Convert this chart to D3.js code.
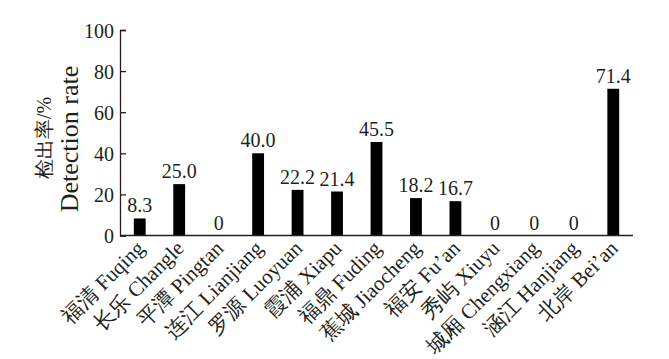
<!DOCTYPE html>
<html><head><meta charset="utf-8">
<script src="https://cdn.jsdelivr.net/npm/d3@7"></script>
<style>body{margin:0;background:#fff;}</style></head>
<body><svg id="c" width="669" height="359"></svg>
<script>
const categories = ["福清 Fuqing","长乐 Changle","平潭 Pingtan","连江 Lianjiang","罗源 Luoyuan","霞浦 Xiapu","福鼎 Fuding","蕉城 Jiaocheng","福安 Fu’an","秀屿 Xiuyu","城厢 Chengxiang","涵江 Hanjiang","北岸 Bei’an"];
const values = [8.3,25.0,0,40.0,22.2,21.4,45.5,18.2,16.7,0,0,0,71.4];
const valueLabels = ["8.3","25.0","0","40.0","22.2","21.4","45.5","18.2","16.7","0","0","0","71.4"];
const yTicks = [0,20,40,60,80,100];
const yTitle = ["检出率/%","Detection rate"];

const FONT = "Liberation Serif";
const INK = "#231f20";
const svg = d3.select("#c");
const x0 = 120, x1 = 633, yTop = 30, yBot = 235.5;
const x = d3.scaleBand().domain(categories).range([x0,x1]).paddingInner(0.7).paddingOuter(0.35);
const y = d3.scaleLinear().domain([0,100]).range([yBot,yTop]);

// y axis
const ya = svg.append("g").attr("transform",`translate(${x0},0)`)
  .call(d3.axisLeft(y).tickValues(yTicks).tickSize(-6).tickPadding(6).tickFormat(d3.format("d")));
ya.attr("font-family",FONT).attr("font-size",20);
ya.select(".domain").attr("stroke",INK).attr("stroke-width",1.3);
ya.selectAll(".tick line").attr("stroke",INK).attr("stroke-width",1.3);
ya.selectAll(".tick text").attr("font-family",FONT).attr("font-size",20).attr("x",-6).attr("dy","0.36em")
  .attr("fill",INK);

// bars
svg.append("g").selectAll("rect").data(values).join("rect")
  .attr("x",(d,i)=>x(categories[i])).attr("width",x.bandwidth())
  .attr("y",d=>y(d)).attr("height",d=>yBot-y(d)).attr("fill","#000");

// x axis line
svg.append("line").attr("x1",x0).attr("x2",x1).attr("y1",yBot).attr("y2",yBot)
  .attr("stroke",INK).attr("stroke-width",1.3);

// value labels
svg.append("g").selectAll("text").data(values).join("text")
  .attr("x",(d,i)=>x(categories[i])+x.bandwidth()/2).attr("y",d=>y(d)-6)
  .attr("text-anchor","middle")
  .attr("font-family",FONT).attr("font-size",20).attr("fill",INK)
  .text((d,i)=>valueLabels[i]);

// x labels
svg.append("g").selectAll("text").data(categories).join("text")
  .attr("transform",d=>`translate(${x(d)+x.bandwidth()/2+6},${yBot+14}) rotate(-45)`)
  .attr("text-anchor","end").attr("font-family",FONT).attr("font-size",21).attr("fill",INK)
  .text(d=>d);

// y title
svg.append("text").attr("transform","translate(51,138) rotate(-90)").attr("text-anchor","middle")
  .attr("font-family",FONT).attr("font-size",20).attr("fill",INK).text(yTitle[0]);
svg.append("text").attr("transform","translate(78,139) rotate(-90)").attr("text-anchor","middle")
  .attr("font-family",FONT).attr("font-size",26).attr("fill",INK).text(yTitle[1]);
</script></body></html>
